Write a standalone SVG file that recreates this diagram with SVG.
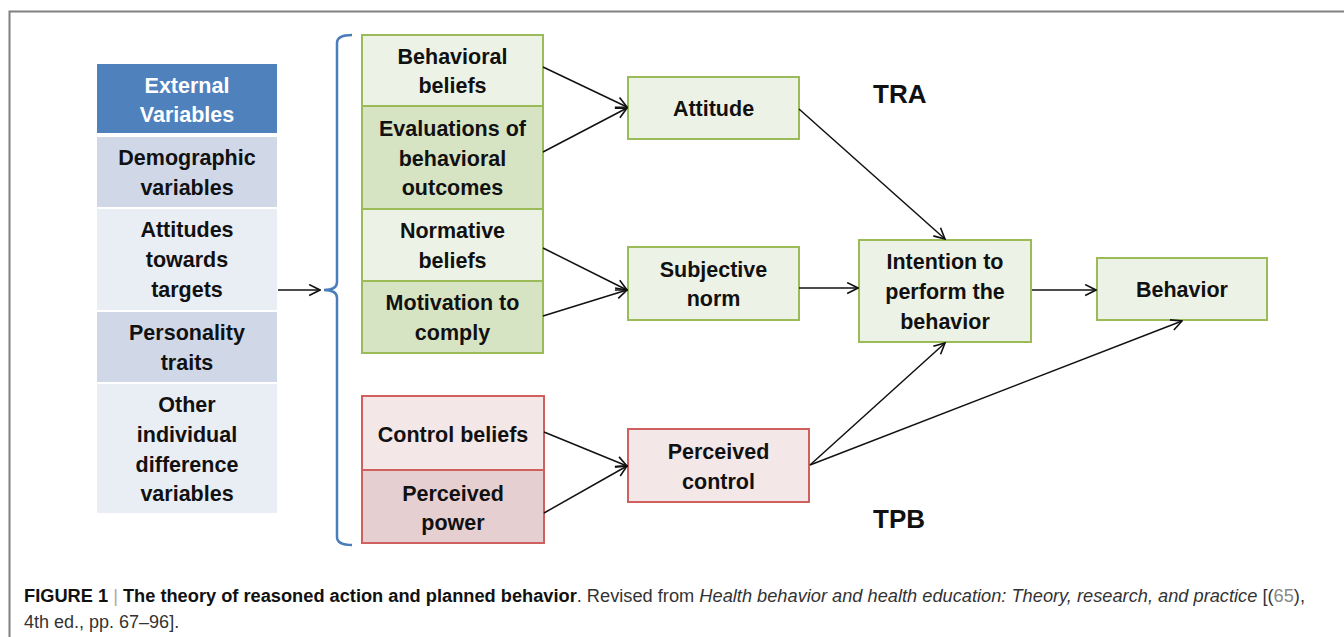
<svg xmlns="http://www.w3.org/2000/svg" width="1344" height="637" viewBox="0 0 1344 637">
<style>
.t{font-family:"Liberation Sans",Arial,sans-serif;font-weight:bold;font-size:21.5px;fill:#111;text-anchor:middle}
.w{fill:#fff}
.big{font-family:"Liberation Sans",Arial,sans-serif;font-weight:bold;font-size:26px;fill:#111}
.g{stroke:#9bbb59;stroke-width:2}
.r{stroke:#d0605e;stroke-width:2}
.c{stroke:#111;stroke-width:1.5;fill:none;marker-end:url(#ah)}
.cap{font-family:"Liberation Sans",Arial,sans-serif;font-size:18px;fill:#333}
</style>
<defs>
<marker id="ah" viewBox="0 0 12 12" refX="11" refY="6" markerWidth="13" markerHeight="13" markerUnits="userSpaceOnUse" orient="auto">
<path d="M1,1 L11,6 L1,11" fill="none" stroke="#111" stroke-width="1.5"/>
</marker>
</defs>
<rect width="1344" height="637" fill="#fff"/>
<path d="M9.5,637 L9.5,11.5 L1344,11.5" fill="none" stroke="#808080" stroke-width="2"/>

<g id="external-variables">
<rect x="97" y="64" width="180" height="69" fill="#4f81bd"/>
<text class="t w" x="187" y="93">External</text>
<text class="t w" x="187" y="122">Variables</text>
</g>
<g id="demographic">
<rect x="97" y="137" width="180" height="70" fill="#d0d8e8"/>
<text class="t" x="187" y="165">Demographic</text>
<text class="t" x="187" y="195">variables</text>
</g>
<g id="attitudes-targets">
<rect x="97" y="209" width="180" height="101" fill="#e9edf4"/>
<text class="t" x="187" y="237">Attitudes</text>
<text class="t" x="187" y="267">towards</text>
<text class="t" x="187" y="297">targets</text>
</g>
<g id="personality">
<rect x="97" y="312" width="180" height="70" fill="#d0d8e8"/>
<text class="t" x="187" y="340">Personality</text>
<text class="t" x="187" y="370">traits</text>
</g>
<g id="other-individual">
<rect x="97" y="384" width="180" height="129" fill="#e9edf4"/>
<text class="t" x="187" y="412">Other</text>
<text class="t" x="187" y="442">individual</text>
<text class="t" x="187" y="472">difference</text>
<text class="t" x="187" y="501">variables</text>
</g>

<g id="brace">
<path d="M352,35 Q337,35 337,43 L337,282 Q337,290 324,290 Q337,290 337,298 L337,537 Q337,545 352,545" fill="none" stroke="#4a7ebb" stroke-width="2.5"/>
</g>

<g id="behavioral-beliefs">
<rect x="362" y="35" width="181" height="71" fill="#edf2e6" class="g"/>
<text class="t" x="452.5" y="64">Behavioral</text>
<text class="t" x="452.5" y="93">beliefs</text>
</g>
<g id="evaluations">
<rect x="362" y="106" width="181" height="103" fill="#d7e4c4" class="g"/>
<text class="t" x="452.5" y="136">Evaluations of</text>
<text class="t" x="452.5" y="166">behavioral</text>
<text class="t" x="452.5" y="195">outcomes</text>
</g>
<g id="normative-beliefs">
<rect x="362" y="209" width="181" height="72" fill="#edf2e6" class="g"/>
<text class="t" x="452.5" y="238">Normative</text>
<text class="t" x="452.5" y="268">beliefs</text>
</g>
<g id="motivation">
<rect x="362" y="281" width="181" height="72" fill="#d7e4c4" class="g"/>
<text class="t" x="452.5" y="310">Motivation to</text>
<text class="t" x="452.5" y="340">comply</text>
</g>

<g id="control-beliefs">
<rect x="362" y="396" width="182" height="74" fill="#f3e7e7" class="r"/>
<text class="t" x="453" y="442">Control beliefs</text>
</g>
<g id="perceived-power">
<rect x="362" y="470" width="182" height="73" fill="#e6cfd0" class="r"/>
<text class="t" x="453" y="501">Perceived</text>
<text class="t" x="453" y="530">power</text>
</g>

<g id="attitude">
<rect x="628" y="77" width="171" height="62" fill="#edf2e6" class="g"/>
<text class="t" x="713.5" y="116">Attitude</text>
</g>
<g id="subjective-norm">
<rect x="628" y="247" width="171" height="73" fill="#edf2e6" class="g"/>
<text class="t" x="713.5" y="277">Subjective</text>
<text class="t" x="713.5" y="306">norm</text>
</g>
<g id="perceived-control">
<rect x="628" y="429" width="181" height="73" fill="#f3e7e7" class="r"/>
<text class="t" x="718.5" y="459">Perceived</text>
<text class="t" x="718.5" y="489">control</text>
</g>
<g id="intention">
<rect x="859" y="240" width="172" height="102" fill="#edf2e6" class="g"/>
<text class="t" x="945" y="269">Intention to</text>
<text class="t" x="945" y="299">perform the</text>
<text class="t" x="945" y="329">behavior</text>
</g>
<g id="behavior">
<rect x="1097" y="258" width="170" height="62" fill="#edf2e6" class="g"/>
<text class="t" x="1182" y="297">Behavior</text>
</g>

<g id="labels">
<text class="big" x="873" y="103">TRA</text>
<text class="big" x="873" y="528">TPB</text>
</g>

<g id="connectors">
<line class="c" x1="278" y1="290" x2="320" y2="290"/>
<line class="c" x1="543" y1="67" x2="627" y2="107"/>
<line class="c" x1="543" y1="152" x2="627" y2="108"/>
<line class="c" x1="543" y1="248" x2="627" y2="290"/>
<line class="c" x1="543" y1="316" x2="627" y2="290"/>
<line class="c" x1="544" y1="432" x2="627" y2="466"/>
<line class="c" x1="544" y1="513" x2="627" y2="466"/>
<line class="c" x1="799" y1="109" x2="945" y2="239"/>
<line class="c" x1="799" y1="288" x2="858" y2="288"/>
<line class="c" x1="1032" y1="290" x2="1096" y2="290"/>
<line class="c" x1="810" y1="465" x2="945" y2="343"/>
<line class="c" x1="810" y1="465" x2="1182" y2="321"/>
</g>

<g id="caption">
<text class="cap" x="24" y="602" textLength="1281" lengthAdjust="spacingAndGlyphs"><tspan font-weight="bold" fill="#111">FIGURE 1</tspan><tspan fill="#aaa"> | </tspan><tspan font-weight="bold" fill="#111">The theory of reasoned action and planned behavior</tspan>. Revised from <tspan font-style="italic">Health behavior and health education: Theory, research, and practice</tspan> [(<tspan fill="#888">65</tspan>),</text>
<text class="cap" x="24" y="628">4th ed., pp. 67–96].</text>
</g>
</svg>
